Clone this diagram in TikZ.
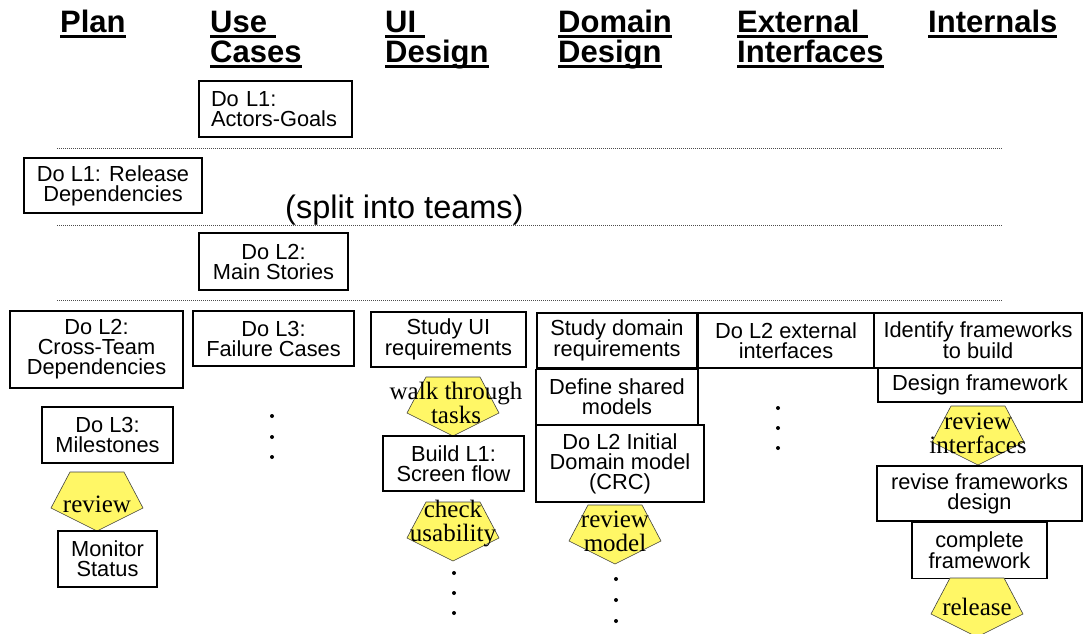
\documentclass[tikz,border=0pt]{standalone}
\usepackage{fontspec}
\setmainfont{Liberation Serif}
\setsansfont{Liberation Sans}
\usetikzlibrary{positioning}

% underlined column head
\newcommand{\hdline}[1]{\setbox0\hbox{#1}\rlap{\copy0}\rule[-5pt]{\wd0}{2.6pt}}
% yellow pentagon: centre x, top y
\newcommand{\gate}[2]{\draw[gate] (#1-27,#2) -- (#1+27,#2) -- (#1+46,#2+36) -- (#1,#2+59) -- (#1-46,#2+36) -- cycle;}

\tikzset{
  head/.style={anchor=base west, inner sep=0pt, font=\fontsize{31}{31}\selectfont\sffamily\bfseries},
  box/.style={draw, line width=1.1pt, align=center, inner sep=2pt, font=\fontsize{21.8}{20}\selectfont\sffamily},
  wh/.style 2 args={minimum width=#1pt, minimum height=#2pt},
  gate/.style={fill=yellow!60, draw=black!75, line width=0.6pt},
  gatetext/.style={anchor=base, inner sep=0pt, align=center, font=\fontsize{25}{24}\selectfont\rmfamily},
  sep/.style={line width=0.8pt, black!70, dash pattern=on 1pt off 1pt}
}

\begin{document}
\begin{tikzpicture}[x=1pt,y=-1pt]
\useasboundingbox (0,0) rectangle (1087,634);

        % column heads
        \node[head] (plan) at (60,33) {\hdline{Plan}};
        \node[head] (ucA) at (210,33) {\hdline{Use\ }};
        \node[head] (ucB) at (210,63) {\hdline{Cases}};
        \node[head] (uiA) at (385,33) {\hdline{UI\ }};
        \node[head] (uiB) at (385,63) {\hdline{Design}};
        \node[head] (ddA) at (558,33) {\hdline{Domain}};
        \node[head] (ddB) at (558,63) {\hdline{Design}};
        \node[head] (eiA) at (737,33) {\hdline{External\ }};
        \node[head] (eiB) at (737,63) {\hdline{Interfaces}};
        \node[head] (intl) at (928,33) {\hdline{Internals}};

        % level 1
        \node[box,align=left,text width=129pt,inner xsep=12pt,minimum height=56pt] (actors) at (275.5,109) {Do L1:\\Actors-Goals};
        \draw[sep] (57,148) -- (1003,148);
        \node[box,wh={178}{55}] (reldep) at (113,185.5) {Do L1: Release\\Dependencies};
        \node[anchor=base west,inner sep=0pt,font=\fontsize{32.5}{32}\selectfont\sffamily] (split) at (285,218) {(split into teams)};
        \draw[sep] (57,225) -- (1003,225);

        % level 2
        \node[box,wh={149}{57}] (stories) at (273.5,261.5) {Do L2:\\Main Stories};
        \draw[sep] (57,300) -- (1003,300);

        % plan column
        \node[box,wh={173}{77}] (xteam) at (96.5,349.5) {Do L2:\\Cross-Team\\Dependencies};
        \node[box,wh={131}{56}] (milest) at (107.5,435) {Do L3:\\Milestones};
        \gate{97}{472}
        \node[gatetext] (rev1) at (97,512) {review};
        \node[box,wh={99}{56}] (monitor) at (107.5,559) {Monitor\\Status};

        % use case column
        \node[box,wh={161}{55}] (failure) at (273.5,338.5) {Do L3:\\Failure Cases};
        \foreach \y in {416,437,457} \fill (272,\y) circle (2);

        % UI column
        \node[box,wh={155}{55}] (studyui) at (448.5,339.5) {Study UI\\requirements};
        \gate{453}{377}
        \node[gatetext] (walk) at (456,423) {walk through\\tasks};
        \node[box,wh={141}{55}] (screen) at (453.5,463.5) {Build L1:\\Screen flow};
        \gate{453}{502}
        \node[gatetext] (check) at (453,541) {check\\usability};
        \foreach \y in {573,593,613} \fill (454,\y) circle (2);

        % domain column
        \node[box,wh={160}{55}] (studydom) at (617,340.5) {Study domain\\requirements};
        \node[box,wh={162}{55},below=0pt of studydom] (shared) {Define shared\\models};
        \node[box,wh={168}{77}] (crc) at (620,463.5) {Do L2 Initial\\Domain model\\(CRC)};
        \gate{615}{505}
        \node[gatetext] (revmodel) at (615,551) {review\\model};
        \foreach \y in {579,600,621} \fill (616,\y) circle (2);

        % external interfaces column
        \node[box,wh={176}{55}] (extif) at (786,340.5) {Do L2 external\\interfaces};
        \foreach \y in {408,428,448} \fill (778,\y) circle (2);

        % internals column
        \node[box,wh={208}{55}] (identify) at (978,340.5) {Identify frameworks\\to build};
        \node[box,wh={204}{34}] (designfw) at (980,385) {Design framework};
        \gate{978}{406}
        \node[gatetext] (revint) at (978,453) {review\\interfaces};
        \node[box,wh={205}{55}] (revise) at (979.5,493.5) {revise frameworks\\design};
        \node[box,wh={135}{56},below=0pt of revise] (complete) {complete\\framework};
        \gate{977}{578}
        \node[gatetext] (release) at (977,615) {release};

\end{tikzpicture}
\end{document}
